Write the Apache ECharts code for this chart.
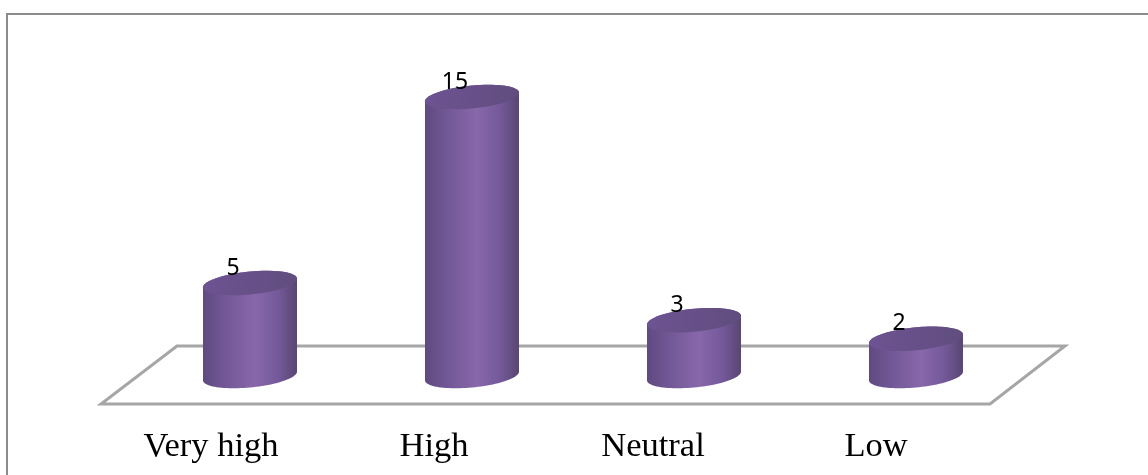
<!DOCTYPE html>
<html>
<head>
<meta charset="utf-8">
<style>html,body{margin:0;padding:0;background:#fff;overflow:hidden}#chart{width:1148px;height:475px}</style>
<script src="https://cdn.jsdelivr.net/npm/echarts@6/dist/echarts.min.js"></script>
</head>
<body>
<div id="chart"></div>
<script>
const categories = ['Very high', 'High', 'Neutral', 'Low'];
const counts = [5, 15, 3, 2];
// How far each category caption sits to the left of its cylinder, in pixels.
const captionShift = [39, 38, 41, 40];

const bodyGradient = {
  type: 'linear', x: 0, y: 0, x2: 1, y2: 0,
  colorStops: [
    { offset: 0, color: '#5f4a80' },
    { offset: 0.2, color: '#6f5693' },
    { offset: 0.55, color: '#8867aa' },
    { offset: 0.8, color: '#74599a' },
    { offset: 1, color: '#594672' }
  ]
};
const capGradient = {
  type: 'linear', x: 0, y: 0, x2: 1, y2: 0,
  colorStops: [
    { offset: 0, color: '#6d5392' },
    { offset: 1, color: '#614d7e' }
  ]
};

// Points of a tilted ellipse between two angles.
function arc(cx, cy, a, b, tilt, from, to) {
  const pts = [];
  for (let i = 0; i <= 48; i++) {
    const t = from + (to - from) * i / 48;
    pts.push([cx + a * Math.cos(t), cy + b * Math.sin(t) - tilt * Math.cos(t)]);
  }
  return pts;
}

function renderCylinder(params, api) {
  const idx = api.value(0);
  const val = api.value(1);
  const top = api.coord([idx, val]);
  const base = api.coord([idx, 0]);
  const a = api.size([1, 0])[0] * 0.2117;
  const b = 11.5, tilt = 4.3;
  const outline = arc(base[0], base[1], a, b, tilt, 0, Math.PI)
    .concat(arc(top[0], top[1], a, b, tilt, Math.PI, 2 * Math.PI));
  const children = [
    { type: 'polygon', shape: { points: outline }, style: { fill: bodyGradient } },
    {
      type: 'polygon',
      shape: { points: arc(top[0], top[1], a, b, tilt, 0, 2 * Math.PI) },
      style: { fill: capGradient }
    },
    {
      type: 'text',
      style: {
        x: top[0] - 17, y: top[1] - 15,
        text: String(val),
        fill: '#000',
        font: '23px "Noto Sans"',
        align: 'center', verticalAlign: 'middle'
      }
    }
  ];
  return { type: 'group', children };
}

// Floor plane, laid out from the plot rectangle.
function renderFloor(params, api) {
  const g = params.coordSys;
  const baseY = g.y + g.height;
  return {
    type: 'polygon',
    shape: {
      points: [
        [g.x + 38, baseY - 30],
        [g.x + g.width + 38, baseY - 30],
        [g.x + g.width - 37, baseY + 28],
        [g.x - 38, baseY + 28]
      ]
    },
    style: { fill: 'none', stroke: '#a6a6a6', lineWidth: 3 }
  };
}

const chart = echarts.init(document.getElementById('chart'), null, { renderer: 'canvas' });
chart.setOption({
  backgroundColor: '#ffffff',
  animation: false,
  graphic: [{
    type: 'rect', z: 0,
    shape: { x: 7, y: 14, width: 1200, height: 520 },
    style: { fill: 'none', stroke: '#8c8c8c', lineWidth: 2 }
  }],
  grid: { left: 139, width: 888, top: 4, height: 372 },
  xAxis: {
    type: 'category',
    data: categories.map((c, i) => ({
      value: c,
      textStyle: { padding: [0, captionShift[i] * 2, 0, 0] }
    })),
    axisLine: { show: false },
    axisTick: { show: false },
    axisLabel: {
      margin: 53,
      interval: 0,
      color: '#000',
      fontFamily: '"Liberation Serif"',
      fontSize: 34.5
    }
  },
  yAxis: { type: 'value', min: 0, max: 20, show: false },
  series: [
    {
      type: 'custom', silent: true, z: 1, clip: false,
      renderItem: renderFloor,
      data: [[0, 0]]
    },
    {
      type: 'custom', silent: true, z: 2, clip: false,
      renderItem: renderCylinder,
      encode: { x: 0, y: 1 },
      data: counts.map((v, i) => [i, v])
    }
  ]
});
</script>
</body>
</html>
